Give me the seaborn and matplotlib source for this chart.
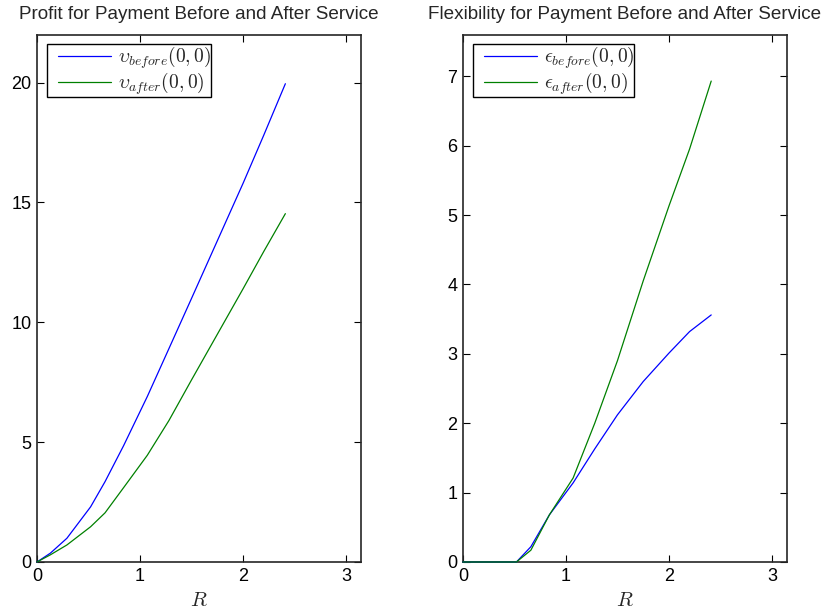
import numpy as np
import pandas as pd
import seaborn as sns
import matplotlib
matplotlib.use("Agg")
import matplotlib.pyplot as plt
from matplotlib.legend_handler import HandlerLine2D
from matplotlib.lines import Line2D

# common grid of R values
R = [0, 0.13, 0.29, 0.52, 0.66, 0.84, 1.07, 1.28, 1.50, 1.75, 2.00, 2.20, 2.41]

profit_before = [0, 0.37, 0.99, 2.3, 3.35, 4.85, 6.9, 8.9, 11.0, 13.4, 15.8, 17.8, 19.95]
profit_after = [0, 0.3, 0.71, 1.47, 2.05, 3.1, 4.45, 5.9, 7.6, 9.5, 11.4, 12.95, 14.53]

flex_before = [0, 0, 0, 0, 0.22, 0.68, 1.14, 1.63, 2.12, 2.6, 3.01, 3.32, 3.56]
flex_after = [0, 0, 0, 0, 0.17, 0.68, 1.21, 2.0, 2.9, 4.05, 5.13, 5.95, 6.93]

profit_labels = [r'$\upsilon_{before}(0,0)$', r'$\upsilon_{after}(0,0)$']
flex_labels = [r'$\epsilon_{before}(0,0)$', r'$\epsilon_{after}(0,0)$']
line_colors = ['#0000ff', '#008000']

sns.set_theme(style="ticks")
plt.rcParams['font.family'] = ['Liberation Sans', 'DejaVu Sans']
plt.rcParams['mathtext.fontset'] = 'cm'
plt.rcParams['xtick.direction'] = 'in'
plt.rcParams['ytick.direction'] = 'in'
plt.rcParams['xtick.top'] = True
plt.rcParams['ytick.right'] = True
plt.rcParams['axes.edgecolor'] = '#262626'
plt.rcParams['axes.linewidth'] = 1.2


def make_frame(before, after, labels):
    df = pd.DataFrame({'R': R * 2,
                       'value': before + after,
                       'series': [labels[0]] * len(R) + [labels[1]] * len(R)})
    return df


def draw_panel(ax, df, labels, title, ylim, yticks):
    sns.lineplot(data=df, x='R', y='value', hue='series', hue_order=labels,
                 palette=line_colors, linewidth=0.9, ax=ax, clip_on=False, zorder=3)
    ax.set_xlim(0, np.pi)
    ax.set_ylim(*ylim)
    ax.set_xticks([0, 1, 2, 3])
    ax.set_yticks(yticks)
    ax.tick_params(labelsize=13, length=5, width=0.8, colors='black', pad=4)
    ax.set_xlabel('$R$', fontsize=15, labelpad=5)
    ax.set_ylabel('')
    ax.set_title(title, fontsize=13.6, pad=11)
    # handle shifted right inside the box, like the matlab legend
    leg = ax.legend(loc='upper left', fontsize=14, handlelength=3.3,
                    handler_map={Line2D: HandlerLine2D(xpad=0.57)},
                    fancybox=False, framealpha=1, borderaxespad=0.5,
                    borderpad=0.0, labelspacing=0.0, handletextpad=0.35)
    leg.get_frame().set_edgecolor('black')
    leg.get_frame().set_linewidth(1.0)


fig = plt.figure(figsize=(8.28, 6.14), dpi=100)
ax1 = fig.add_axes([0.0447, 0.0847, 0.391, 0.859])
ax2 = fig.add_axes([0.559, 0.0847, 0.391, 0.859])

draw_panel(ax1, make_frame(profit_before, profit_after, profit_labels), profit_labels,
           'Profit for Payment Before and After Service', (0, 22), [0, 5, 10, 15, 20])
draw_panel(ax2, make_frame(flex_before, flex_after, flex_labels), flex_labels,
           'Flexibility for Payment Before and After Service', (0, 7.6), range(8))

fig.savefig('out.png', dpi=100)
